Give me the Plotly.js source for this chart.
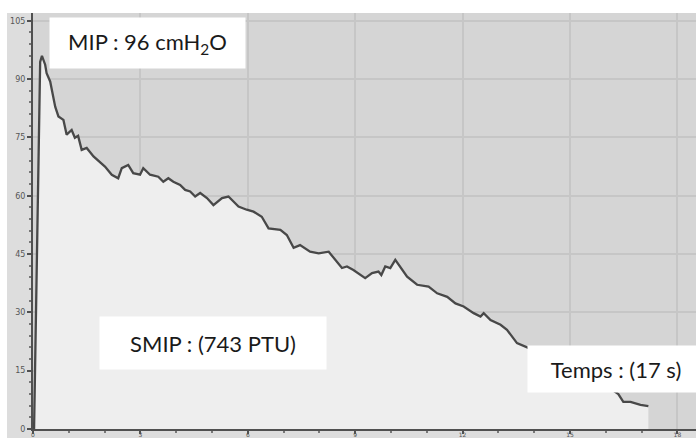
<!DOCTYPE html>
<html><head><meta charset="utf-8">
<script src="https://cdn.plot.ly/plotly-3.0.1.min.js"></script>
<style>html,body{margin:0;padding:0;background:#fff}#chart{width:696px;height:438px}</style>
</head><body><div id="chart"></div>
<script>
// Time (s) and inspiratory pressure (cmH2O)
const timeS = [0.03,0.20,0.25,0.34,0.38,0.48,0.62,0.71,0.85,0.94,1.08,1.17,1.26,1.36,1.50,1.69,2.01,2.20,2.38,2.48,2.66,2.80,2.99,3.08,3.27,3.50,3.64,3.78,3.92,4.11,4.25,4.39,4.53,4.67,4.86,5.04,5.28,5.46,5.60,5.74,5.97,6.16,6.39,6.58,6.91,7.09,7.28,7.46,7.74,7.98,8.26,8.44,8.63,8.77,8.95,9.28,9.47,9.65,9.73,9.84,9.98,10.12,10.26,10.45,10.73,11.05,11.29,11.57,11.80,12.03,12.31,12.50,12.59,12.78,13.06,13.24,13.52,13.75,14.31,14.87,15.43,15.99,16.35,16.49,16.69,16.97,17.19];
const pressure = [0,94.4,96,93.7,91.5,89.4,82.9,80.4,79.5,75.7,76.9,74.9,75.4,71.8,72.3,70.1,67.5,65.4,64.5,67.1,67.9,65.8,65.4,67.1,65.4,64.9,63.6,64.5,63.6,62.8,61.5,61.1,59.8,60.7,59.4,57.6,59.4,59.8,58.5,57.2,56.4,55.9,54.6,51.6,51.2,49.9,46.6,47.3,45.6,45.2,45.6,43.5,41.4,41.8,40.9,38.8,40.1,40.5,39.6,41.8,41.4,43.5,41.8,39.2,37.1,36.6,34.9,34.0,32.3,31.5,29.8,28.9,29.8,28.0,26.8,25.5,22.1,21.2,19.0,16.5,13.9,11.3,9.0,7.0,7.0,6.2,5.9];
const xTickVals = [0,3,6,9,12,15,18];
const yTickVals = [0,15,30,45,60,75,90,105];
const labelMIP = 'MIP : 96 cmH<sub>2</sub>O';
const labelSMIP = 'SMIP : (743 PTU)';
const labelTemps = 'Temps : (17 s)';

const boxFont = {family: 'Lato, "Open Sans", sans-serif', size: 22, color: '#1a1a1a'};

const trace = {
  x: timeS, y: pressure, type: 'scatter', mode: 'lines',
  fill: 'tozeroy', fillcolor: '#eeeeee',
  line: {color: '#484848', width: 2.3},
  hoverinfo: 'skip'
};

const layout = {
  width: 696, height: 438,
  margin: {l: 33, r: 0, t: 13, b: 9, pad: 0},
  paper_bgcolor: '#ffffff',
  plot_bgcolor: '#d5d5d5',
  showlegend: false,
  xaxis: {
    range: [0, 18.52], tickvals: xTickVals, ticktext: xTickVals.map(String),
    showgrid: true, gridcolor: '#c6c6c6', gridwidth: 2, zeroline: false,
    showline: true, linecolor: '#505050', linewidth: 2,
    ticks: 'outside', ticklen: 3, tickcolor: '#505050', tickwidth: 2,
    ticklabelstandoff: -4,
    minor: {dtick: 1, ticks: 'outside', ticklen: 2, tickcolor: '#777', showgrid: false},
    tickfont: {family: 'DejaVu Sans, sans-serif', size: 6, color: '#555'},
    fixedrange: true
  },
  yaxis: {
    range: [0, 107], tickvals: yTickVals, ticktext: yTickVals.map(String),
    showgrid: true, gridcolor: '#c6c6c6', gridwidth: 2, zeroline: false,
    showline: true, linecolor: '#505050', linewidth: 2,
    ticks: 'outside', ticklen: 4, tickcolor: '#505050', tickwidth: 2,
    minor: {dtick: 3, ticks: 'outside', ticklen: 2, tickcolor: '#777', showgrid: false},
    tickfont: {family: 'DejaVu Sans, sans-serif', size: 8, color: '#555'},
    fixedrange: true
  },
  shapes: [
    {type: 'rect', xref: 'paper', yref: 'paper', x0: -0.0392, x1: 0, y0: -0.03, y1: 1,
     fillcolor: '#dddddd', line: {width: 0}, layer: 'below'},
    {type: 'rect', xref: 'paper', yref: 'paper', x0: 0, x1: 1.01, y0: -0.03, y1: 0,
     fillcolor: '#dddddd', line: {width: 0}, layer: 'below'}
  ],
  annotations: [
    {x: 3.20, y: 99.3, xref: 'x', yref: 'y', text: labelMIP, showarrow: false,
     bgcolor: '#ffffff', width: 195, height: 50, borderpad: 0, font: boxFont},
    {x: 5.03, y: 22.1, xref: 'x', yref: 'y', text: labelSMIP, showarrow: false,
     bgcolor: '#ffffff', width: 226, height: 52, borderpad: 0, font: boxFont},
    {x: 16.28, y: 15.4, xref: 'x', yref: 'y', text: labelTemps, showarrow: false,
     bgcolor: '#ffffff', width: 176, height: 46, borderpad: 0, font: boxFont}
  ]
};

Plotly.newPlot('chart', [trace], layout, {displayModeBar: false, staticPlot: true});
</script>
</body></html>
